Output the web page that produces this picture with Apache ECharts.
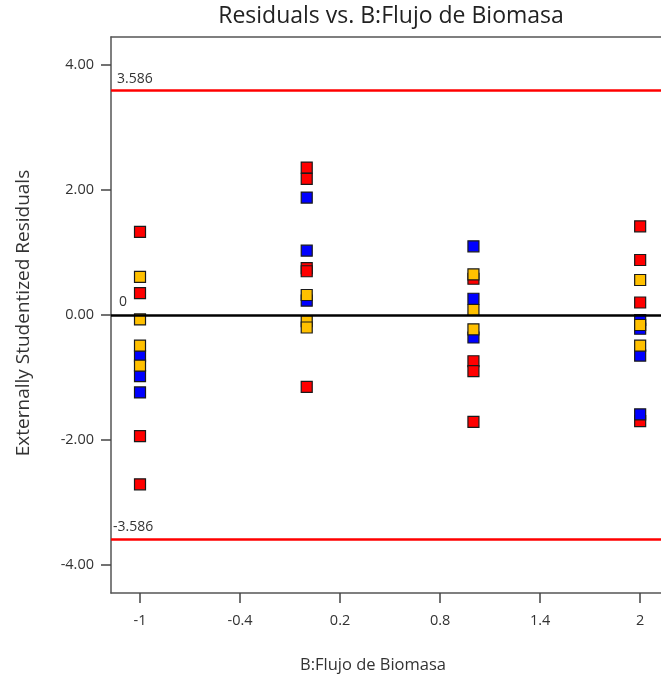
<!DOCTYPE html>
<html>
<head>
<meta charset="utf-8">
<script src="https://cdn.jsdelivr.net/npm/echarts@6/dist/echarts.min.js"></script>
<style>
  html, body { margin: 0; padding: 0; background: #fff; }
  #chart { width: 661px; height: 681px; }
</style>
</head>
<body>
<div id="chart"></div>
<script>
// Factor levels of B:Flujo de Biomasa
const xLevels = [-1, 0, 1, 2];

// Externally studentized residuals at each level, grouped by marker colour
const redResiduals = [
  [1.33, 0.35, -1.94, -2.71],
  [2.36, 2.18, 0.75, 0.70, -1.15],
  [0.58, -0.74, -0.90, -1.71],
  [1.42, 0.88, 0.20, -1.70]
];
const blueResiduals = [
  [-0.66, -0.98, -1.24],
  [1.88, 1.03, 0.23],
  [1.10, 0.26, -0.36],
  [-0.08, -0.22, -0.65, -1.59]
];
const yellowResiduals = [
  [0.61, -0.07, -0.49, -0.81],
  [0.32, -0.10, -0.20],
  [0.65, 0.08, -0.23],
  [0.56, -0.16, -0.49]
];

// Control limits and reference line
const upperLimit = 3.586;
const lowerLimit = -3.586;
const centerLine = 0;

// Tick positions
const xTicks = [-1, -0.4, 0.2, 0.8, 1.4, 2];
const yTicks = [-4, -2, 0, 2, 4];

function toPoints(groups) {
  const pts = [];
  groups.forEach((vals, i) => vals.forEach(v => pts.push([xLevels[i], v])));
  return pts;
}

const fontFamily = '"Open Sans", "Noto Sans", sans-serif';
const axisColor = '#555';
const markerStyle = (color) => ({
  color: color,
  opacity: 1,
  borderColor: '#1a1a1a',
  borderWidth: 1.2
});

const chart = echarts.init(document.getElementById('chart'), null, { renderer: 'canvas' });

chart.setOption({
  animation: false,
  backgroundColor: '#ffffff',
  title: {
    text: 'Residuals vs. B:Flujo de Biomasa',
    left: 386,
    textAlign: 'center',
    top: 0,
    textStyle: { fontFamily, fontSize: 23, fontWeight: 'normal', color: '#222' }
  },
  grid: {
    left: 111, top: 37, right: 0, bottom: 88,
    show: false,
    containLabel: false
  },
  xAxis: [
    {
      type: 'value',
      min: -1.174, max: 2.125,
      axisLine: { show: true, onZero: false, lineStyle: { color: axisColor, width: 1.5 } },
      axisTick: { show: true, length: 10, lineStyle: { color: '#444', width: 1.5 }, customValues: xTicks },
      axisLabel: {
        customValues: xTicks, margin: 20,
        fontFamily, fontSize: 14.5, color: '#333',
        formatter: v => String(v)
      },
      splitLine: { show: false }
    },
    {
      // top frame edge
      type: 'value', position: 'top',
      min: -1.174, max: 2.125,
      axisLine: { show: true, onZero: false, lineStyle: { color: axisColor, width: 1.5 } },
      axisTick: { show: false }, axisLabel: { show: false }, splitLine: { show: false }
    }
  ],
  yAxis: {
    type: 'value',
    min: -4.45, max: 4.45,
    axisLine: { show: true, onZero: false, lineStyle: { color: axisColor, width: 1.5 } },
    axisTick: { show: true, length: 10, lineStyle: { color: '#444', width: 1.5 }, customValues: yTicks },
    axisLabel: {
      customValues: yTicks, margin: 17,
      fontFamily, fontSize: 14.5, color: '#333',
      formatter: v => v.toFixed(2)
    },
    splitLine: { show: false }
  },
  graphic: [
    {
      type: 'text', x: 373, y: 665,
      style: { text: 'B:Flujo de Biomasa', fontFamily, fontSize: 16.5, fill: '#333', align: 'center', verticalAlign: 'middle' }
    },
    {
      type: 'text', x: 24, y: 313, rotation: Math.PI / 2,
      style: { text: 'Externally Studentized Residuals', fontFamily, fontSize: 19, fill: '#333', align: 'center', verticalAlign: 'middle' }
    }
  ],
  series: [
    {
      type: 'scatter', data: [], z: 1, silent: true,
      markLine: {
        symbol: ['none', 'none'], silent: true,
        data: [
          { yAxis: upperLimit, lineStyle: { color: '#ff0000', width: 2.5, type: 'solid' }, label: { formatter: '3.586', distance: [6, 5] } },
          { yAxis: lowerLimit, lineStyle: { color: '#ff0000', width: 2.5, type: 'solid' }, label: { formatter: '-3.586' } },
          { yAxis: centerLine, lineStyle: { color: '#000000', width: 2.5, type: 'solid' }, label: { formatter: '0', distance: [8, 6] } }
        ],
        label: {
          show: true, position: 'insideStartTop', distance: [2, 5],
          fontFamily, fontSize: 14, color: '#333'
        }
      }
    },
    {
      name: 'red', type: 'scatter', z: 2, symbol: 'rect', symbolSize: 11,
      itemStyle: markerStyle('#ff0000'), data: toPoints(redResiduals)
    },
    {
      name: 'blue', type: 'scatter', z: 3, symbol: 'rect', symbolSize: 11,
      itemStyle: markerStyle('#0000ff'), data: toPoints(blueResiduals)
    },
    {
      name: 'yellow', type: 'scatter', z: 4, symbol: 'rect', symbolSize: 11,
      itemStyle: markerStyle('#ffc000'), data: toPoints(yellowResiduals)
    }
  ]
});
</script>
</body>
</html>
